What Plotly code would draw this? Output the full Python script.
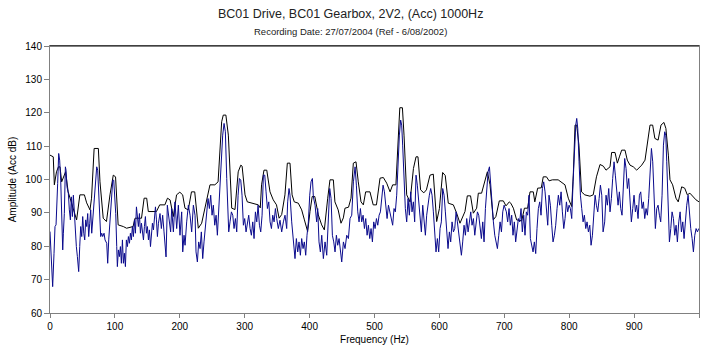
import plotly.graph_objects as go

# Reference spectrum (black) - frequency (Hz) and amplitude (Acc dB)
ref_freq = [0, 5, 6.7, 10, 13, 15.4, 18, 20.5, 24, 28, 33, 41, 46, 53, 56.5, 61.6, 64, 68, 74.5, 77,
            82, 87, 92.4, 97.5, 101, 105, 113, 118, 128, 131, 141, 145, 149, 151.5, 164, 169, 177, 181,
            185, 190, 195, 200, 204.4, 208, 213, 218, 223, 228.5, 233.7, 241, 246.5, 254, 259, 264.5,
            267, 271, 274.8, 280, 285, 290, 294, 296, 300.5, 304, 310.8, 321, 324, 326, 329.7, 334,
            339, 344, 349, 353, 357, 362, 365.7, 369.8, 373, 376.4, 382.6, 387.8, 392, 397, 400.6, 404,
            408, 413.4, 418.6, 422.7, 427.9, 431.4, 436.6, 439, 444, 448.4, 452, 454.5, 460, 463.8,
            467.4, 471.5, 475, 479.2, 482.8, 486.4, 493, 498, 503, 508.5, 513.6, 518.8, 524, 528, 533,
            536.7, 539, 543, 545.5, 549.6, 554.7, 560, 564, 567, 571, 576, 580, 585.5, 590.6, 595.8,
            600, 605, 609, 613.7, 621.5, 626.6, 631.7, 639.4, 643, 648, 652.3, 657.4, 660, 665, 670,
            673.9, 678, 683, 687, 692.3, 698.5, 702.6, 707.7, 710, 714, 719, 726.8, 731, 736, 739.6,
            744.7, 747, 751.4, 757, 760, 765, 769, 774, 783, 788, 793.5, 798.6, 803.8, 806.3, 809,
            811.5, 815, 819, 824, 832, 837, 842, 847.5, 852.6, 856.7, 862.9, 865.4, 870.6, 874.2,
            877.7, 880.9, 886, 889.5, 893.7, 898.8, 904, 911.7, 916.8, 921.9, 924.5, 928.6, 932, 937,
            941.4, 946, 949, 952.8, 955.3, 959.4, 964.5, 968, 973.3, 978, 982, 986, 990, 995.4, 1000]
ref_amp = [107.3, 106.8, 98.4, 102.3, 103.8, 103.8, 99.3, 100.8, 102.3, 96.3, 93.3, 87.9, 95.4, 95.4,
           93.0, 90.9, 94.4, 109.3, 109.3, 99.3, 88.4, 87.4, 95.4, 101.3, 100.8, 86.4, 85.9, 85.4,
           85.9, 88.4, 88.4, 94.4, 94.4, 90.4, 90.4, 92.4, 92.4, 94.4, 93.9, 88.9, 95.4, 96.2, 95.4,
           91.4, 90.9, 96.3, 96.3, 85.4, 86.9, 93.3, 98.4, 98.4, 99.3, 117.3, 119.3, 119.3, 113.3,
           91.4, 91.0, 102.3, 104.3, 104.0, 95.4, 93.3, 92.9, 92.4, 91.5, 98.4, 102.8, 102.8, 96.3,
           93.9, 92.4, 88.4, 89.5, 95.4, 104.9, 104.9, 95.4, 93.3, 92.9, 90.9, 87.9, 84.4, 90.4, 94.9,
           94.9, 89.4, 86.4, 84.9, 94.4, 99.9, 99.9, 93.3, 90.9, 86.9, 88.5, 91.4, 91.7, 94.4, 104.9,
           105.3, 99.3, 93.3, 92.4, 96.3, 96.3, 92.4, 92.4, 100.4, 100.6, 98.9, 96.3, 98.4, 98.4,
           115.3, 121.5, 121.5, 113.3, 95.4, 93.3, 103.3, 106.8, 106.8, 96.9, 96.0, 96.9, 101.3,
           101.6, 87.4, 91.3, 102.1, 101.2, 92.9, 92.4, 89.9, 86.9, 90.4, 95.1, 95.1, 89.9, 91.4,
           95.9, 95.9, 99.9, 102.3, 98.4, 87.9, 88.9, 93.6, 93.6, 92.1, 93.3, 92.9, 91.4, 87.9, 87.6,
           91.4, 91.4, 96.3, 96.3, 93.3, 97.4, 97.5, 100.8, 100.8, 99.6, 99.9, 99.9, 99.2, 98.4,
           94.4, 91.9, 101.3, 116.3, 116.3, 110.3, 96.3, 95.4, 95.0, 95.4, 100.8, 104.5, 104.0,
           102.8, 103.8, 108.1, 108.1, 104.9, 107.0, 108.8, 108.8, 105.8, 104.3, 103.8, 102.8,
           104.3, 105.8, 113.3, 116.3, 116.3, 112.3, 111.8, 116.3, 117.1, 115.3, 107.3, 99.9, 98.4,
           94.4, 93.3, 97.8, 97.4, 95.4, 95.9, 94.9, 93.9, 93.3]

# Current recording (blue) - frequency (Hz) and amplitude (Acc dB)
rec_freq = [0, 2.6, 4.1, 6.2, 7.7, 9.3, 10.3, 11.8, 13.4, 14.9, 16.5, 17.5, 18.5, 19.6, 20.6, 22.1,
            23.7, 24.7, 26.2, 28.3, 29.8, 31.4, 32.9, 34.5, 36, 37.5, 39.1, 40.6, 42.2, 44.2, 45.8,
            47.3, 48.9, 50.4, 52, 53.5, 55, 56.6, 58.1, 59.6, 61.2, 62.7, 64.3, 65.8, 67.4, 68.9,
            70.4, 72, 73.5, 75.1, 76.6, 78.1, 79.7, 81.2, 83.3, 84.8, 87.4, 88.9, 90.5, 92, 93.6,
            95.1, 96.7, 98.2, 99.7, 101.3, 102.8, 103.8, 105.4, 106.9, 108.5, 110, 111.6, 113.1,
            114.6, 116.2, 117.7, 119.3, 120.8, 122.4, 123.9, 125.4, 127, 128.5, 130.1, 131.6, 133.2,
            134.7, 136.2, 137.8, 139.3, 140.9, 142.4, 144, 145.5, 147, 148.6, 150.1, 151.7, 153.2,
            154.8, 156.3, 157.8, 159.4, 160.9, 162.5, 164, 165.5, 167.1,
            169.5, 171.6, 173.6, 175.7, 178.8, 180.8, 183.9, 185.9, 187.5, 190.1, 192.6, 195.2,
            197.8, 200.3, 202.9, 204.5, 206.5, 208.1, 210.6, 213.2, 215.8, 218.3, 220.9, 223.5, 225,
            227.1, 229.1, 231.2, 233.2, 235.3, 237.3, 239.4, 241.5, 243.5, 245.6, 247.6, 249.7,
            251.7, 253.8, 255.9, 257.9, 260, 262, 264.1, 266.1, 268.2, 270.2, 272.3, 273.8, 275.4,
            277.4, 279.5, 281.6, 283.6, 285.7, 287.7, 289.8, 291.8, 293.9, 295.9, 298, 300, 302.1,
            304.2, 306.2, 308.3, 310.3, 312.4, 314.4, 316.5, 318.6, 320.6, 322.7, 324.7, 326.8,
            328.8, 330.9, 332.9, 335, 337.1, 339.1, 341.2, 343.2, 345.3, 347.3,
            349.3, 351.8, 354.4, 357, 359.6, 362.1, 364.7, 366.2, 368.3, 369.8, 372.4, 375, 377.5,
            379.6, 381.7, 383.7, 385.8, 387.8, 389.9, 391.9, 394, 396, 398.1, 400.2, 402.2, 404.3,
            405.8, 408.4, 410.9, 412.5, 414.5, 416.6, 418.7, 421.2, 423.8, 426.4, 428.9, 431, 433.1,
            435.1, 437.2, 439.2, 441.3, 443.3, 445.4, 447.4, 449.5, 452.1, 454.6, 457.2, 459.8,
            462.3, 464.9, 467.5, 470.1, 472.1, 474.2, 476.2, 478.3, 480.3, 482.4, 484.5, 486.5,
            488.6, 490.6, 492.7, 494.7, 496.8, 498.8, 500.9, 503, 505, 507.1, 509.1, 511.2, 513.2,
            515.3, 517.3, 519.4, 521.5,
            526, 528, 530.1, 532.1, 534.2, 536.2, 538.3, 540.3, 541.9, 543.4, 545.5, 547.5, 549.6,
            551.7, 553.7, 555.8, 557.8, 559.9, 561.9, 564, 566, 568.1, 570.2, 572.2, 574.3, 576.3,
            578.4, 580.4, 582.5, 584.5, 586.6, 588.7, 590.7, 592.8, 594.8, 596.9, 598.9, 601, 603,
            605.1, 607.2, 609.2, 611.3, 613.3, 615.4, 617.4, 619.5, 621.6, 623.6, 625.7, 627.7,
            629.8, 631.8, 633.9, 635.9, 638, 640.1, 642.1, 644.2, 646.2, 648.3, 650.3, 652.4, 654.5,
            656.5, 658.6, 660.6, 662.7, 664.7, 666.8, 668.8, 670.9, 673, 675, 677.1, 679.1, 681.2,
            683.2, 685.3, 687.3, 689.4, 691.5, 693.5, 695.6, 697.6, 699.7,
            703.2, 705.2, 707.3, 709.3, 711.4, 713.4, 715.5, 717.5, 719.6, 721.7, 723.7, 725.8,
            727.8, 729.9, 731.9, 734, 736, 738.1, 740.2, 742.2, 744.3, 746.3, 748.4, 750.4, 752.5,
            754.6, 756.6, 758.7, 760.7, 762.8, 764.8, 766.9, 768.9, 771, 773.1, 775.1, 777.2, 779.2,
            781.3, 783.3, 785.4, 787.5, 789.5, 791.6, 793.6, 795.7, 797.7, 799.8, 801.8, 803.9, 806,
            808, 810.1, 811.6, 813.2, 815.2, 817.3, 819.3, 821.4, 823.4, 825.5, 827.5, 829.6, 831.7,
            833.7, 835.8, 837.8, 839.9, 841.9, 844, 846.1, 848.1, 850.2, 852.2,
            854.7, 856.8, 858.8, 860.9, 862.9, 865, 867, 869.1, 871.1, 873.2, 875.3, 877.3, 879.4,
            881.4, 883.5, 885.5, 887.6, 889.6, 891.7, 893.8, 895.8, 897.9, 899.9, 902, 904, 906.1,
            908.2, 910.2, 912.3, 914.3, 916.4, 918.4, 920.5, 922.5, 924.6, 926.7, 928.7, 930.8,
            932.8, 934.9, 936.9, 939, 941, 943.1, 945.2, 947.2, 948.8, 950.3, 952.4, 954.4, 956.5,
            958.5, 960.6, 962.6, 964.7, 966.7, 968.8, 970.9, 972.9, 975, 977, 979.1, 981.1, 983.2,
            985.3, 987.3, 989.4, 991.4, 993.5, 995.5, 997.6, 999.6]
rec_amp = [84.4, 69.9, 67.9, 77.9, 85.9, 86.4, 89.8, 98.8, 107.8, 105.8, 99.8, 93.8, 81.9, 78.9, 83.9,
           89.8, 103.8, 102.8, 97.8, 95.8, 90.9, 87.9, 94.8, 88.9, 95.3, 89.8, 83.9, 79.9, 76.9,
           72.4, 79.9, 85.9, 82.9, 88.9, 83.9, 81.9, 87.9, 85.9, 89.8, 82.9, 86.9, 90.9, 83.9, 87.9,
           91.8, 93.8, 97.8, 103.8, 102.8, 95.3, 87.9, 82.9, 83.9, 82.9, 83.9, 81.9, 80.9, 74.9,
           81.9, 85.9, 91.8, 96.8, 99.8, 99.8, 95.8, 89.8, 79.9, 73.9, 78.9, 76.9, 79.9, 74.9, 81.9,
           74.9, 77.9, 73.9, 81.9, 79.9, 82.9, 80.9, 83.9, 81.9, 85.9, 82.9, 87.9, 83.9, 91.8, 88.9,
           85.9, 89.8, 83.9, 86.9, 84.9, 81.9, 85.9, 88.9, 83.9, 85.9, 81.9, 84.9, 79.9, 82.9, 86.9,
           84.9, 88.9, 91.8, 87.9, 82.9, 86.9,
           89.8, 85.3, 89.3, 84.3, 76.8, 92.3, 88.3, 84.3, 91.3, 84.3, 93.3, 85.3, 92.3, 83.3, 90.3,
           78.3, 83.3, 80.3, 87.3, 92.3, 89.3, 84.3, 92.3, 89.3, 78.3, 75.3, 81.3, 79.3, 84.3, 76.3,
           81.3, 85.3, 89.3, 94.3, 91.3, 95.3, 89.3, 92.3, 86.3, 89.3, 83.3, 91.3, 95.3, 107.3,
           113.3, 116.8, 114.3, 100.3, 91.3, 84.3, 87.3, 90.3, 89.3, 85.3, 88.3, 84.3, 95.3, 100.3,
           99.8, 95.3, 86.3, 88.3, 84.3, 87.3, 89.3, 85.3, 83.3, 87.3, 82.3, 90.3, 87.3, 92.3, 86.3,
           84.3, 89.3, 101.3, 101.3, 96.3, 91.3, 93.3, 87.3, 85.3, 89.3, 87.3, 91.3,
           88.3, 85.3, 87.8, 84.3, 87.3, 89.3, 85.3, 93.3, 97.3, 95.3, 87.3, 81.3, 76.3, 82.3, 78.3,
           81.3, 77.3, 82.3, 79.3, 81.3, 77.3, 83.3, 87.3, 95.3, 99.3, 100.3, 94.8, 92.3, 87.3, 91.3,
           81.3, 78.3, 83.3, 76.3, 81.3, 77.3, 91.3, 97.3, 94.3, 83.3, 81.3, 78.3, 83.3, 80.3, 82.3,
           78.3, 75.3, 81.3, 79.3, 83.3, 82.3, 88.3, 89.3, 99.3, 103.8, 98.3, 90.3, 87.3, 91.3, 87.3,
           89.3, 85.3, 88.3, 83.3, 86.3, 82.3, 85.3, 81.3, 87.3, 85.3, 88.3, 86.3, 89.3, 90.3, 95.3,
           98.3, 96.3, 91.3, 88.3, 92.3,
           88.3, 86.3, 91.3, 90.3, 95.3, 105.3, 113.3, 117.8, 116.3, 110.3, 97.3, 91.3, 87.3, 94.3,
           89.3, 96.3, 90.3, 93.3, 87.3, 101.3, 98.3, 93.3, 87.3, 84.3, 92.3, 87.3, 83.3, 89.3, 93.3,
           95.3, 97.3, 95.3, 90.3, 83.3, 78.3, 82.3, 78.3, 85.3, 87.3, 97.3, 95.3, 90.3, 83.3, 79.3,
           84.3, 81.3, 87.3, 84.3, 85.3, 90.3, 87.3, 83.3, 80.3, 77.3, 81.3, 86.3, 83.3, 88.3, 84.3,
           87.3, 90.3, 86.3, 88.3, 83.3, 87.3, 90.3, 89.3, 85.3, 82.3, 87.3, 81.3, 91.3, 98.3, 102.3,
           103.8, 97.3, 90.3, 87.3, 83.3, 81.3, 79.3, 83.3, 87.3, 84.3, 90.3, 92.3,
           90.3, 87.3, 91.3, 86.3, 89.3, 83.3, 87.3, 81.3, 84.3, 88.3, 87.3, 91.3, 84.3, 89.3, 83.3,
           90.3, 89.3, 95.3, 82.3, 80.3, 78.3, 81.3, 77.8, 85.3, 91.3, 93.3, 89.3, 97.3, 99.3, 96.3,
           90.3, 86.3, 95.3, 92.3, 86.3, 81.3, 83.3, 86.3, 91.3, 95.3, 92.3, 96.3, 90.3, 85.3, 88.3,
           93.3, 90.3, 92.3, 91.3, 88.3, 99.3, 109.3, 116.3, 118.3, 115.3, 105.3, 95.3, 91.3, 87.3,
           89.3, 85.3, 87.3, 84.3, 86.3, 80.3, 83.3, 91.3, 95.3, 92.3, 90.3, 94.3, 98.3, 95.3, 84.3,
           87.3, 95.3, 92.3, 97.3, 90.3, 94.3, 100.3, 105.3, 101.3, 97.3, 92.3, 96.3, 91.3, 89.3,
           96.3, 106.3, 103.3, 97.3, 100.3, 92.3, 87.3, 91.3, 95.3, 90.3, 92.3, 88.3, 95.3, 96.3,
           91.3, 93.3, 88.3, 91.3, 89.3, 94.3, 100.3, 109.3, 105.3, 95.3, 85.3, 91.3, 92.3, 89.3,
           87.3, 95.3, 110.3, 114.3, 113.3, 105.3, 92.3, 81.3, 85.3, 90.3, 88.3, 83.3, 86.3, 81.3,
           87.3, 90.3, 84.3, 87.3, 82.3, 88.3, 92.3, 95.3, 89.3, 85.3, 82.3, 78.3, 83.3, 85.3, 84.3,
           85.3]

title_main = "BC01 Drive, BC01 Gearbox, 2V2, (Acc) 1000Hz"
title_sub = "Recording Date: 27/07/2004 (Ref - 6/08/2002)"
x_ticks = [0, 100, 200, 300, 400, 500, 600, 700, 800, 900, 1000]
y_ticks = [60, 70, 80, 90, 100, 110, 120, 130, 140]

FONT = "Liberation Sans, Arial, sans-serif"

fig = go.Figure()
fig.add_trace(go.Scatter(x=ref_freq, y=ref_amp, mode="lines",
                         line=dict(color="#000000", width=1), name="Reference",
                         hoverinfo="x+y"))
fig.add_trace(go.Scatter(x=rec_freq, y=rec_amp, mode="lines",
                         line=dict(color="#0a0a8c", width=1), name="Recording",
                         hoverinfo="x+y"))

fig.update_layout(
    width=709, height=351,
    margin=dict(l=50, r=10, t=46, b=38, autoexpand=False),
    paper_bgcolor="white", plot_bgcolor="white",
    showlegend=False,
    font=dict(family=FONT, size=10, color="#000000"),
    annotations=[
        dict(text=title_main, x=0.463, y=1, xref="paper", yref="paper", yanchor="top",
             xanchor="center", yshift=41, showarrow=False,
             font=dict(family=FONT, size=12.5, color="#222222")),
        dict(text=title_sub, x=0.463, y=1, xref="paper", yref="paper", yanchor="top",
             xanchor="center", yshift=22, showarrow=False,
             font=dict(family=FONT, size=9.5, color="#222222")),
    ],
    shapes=[
        dict(type="line", xref="paper", yref="paper", x0=0, x1=1, y0=1, y1=1,
             line=dict(color="#000000", width=1)),
    ],
)

fig.update_xaxes(range=[0, 1000], tickvals=x_ticks, ticks="outside", ticklen=4,
                 tickcolor="#808080", showline=True, linecolor="#808080", linewidth=1,
                 mirror=True, showgrid=False, zeroline=False, automargin=False,
                 title=dict(text="Frequency (Hz)", standoff=4,
                            font=dict(family=FONT, size=10)),
                 tickfont=dict(family=FONT, size=10))
fig.update_yaxes(range=[60, 140], tickvals=y_ticks, ticks="outside", ticklen=5,
                 tickcolor="#808080", showline=True, linecolor="#808080", linewidth=1,
                 mirror=True, showgrid=False, zeroline=False, automargin=False,
                 title=dict(text="Amplitude (Acc dB)", standoff=6,
                            font=dict(family=FONT, size=10)),
                 tickfont=dict(family=FONT, size=10))

fig.write_html("out.html", config={"displayModeBar": False},
               post_script="document.body.style.margin='0';")
